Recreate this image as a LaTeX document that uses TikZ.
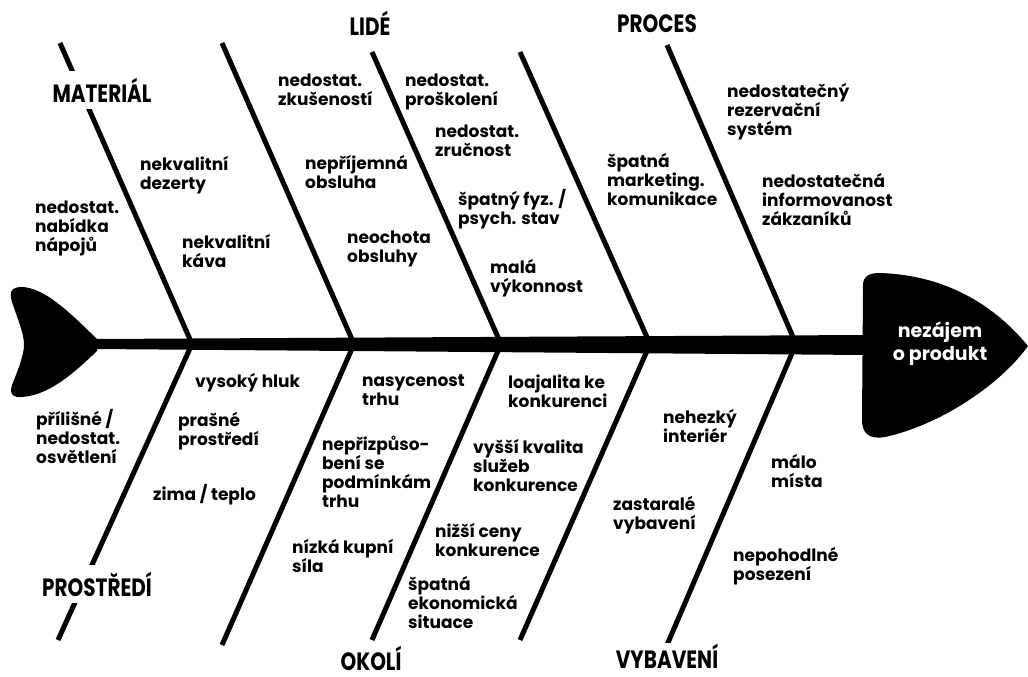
\documentclass[tikz,border=0pt]{standalone}
\usepackage{fontspec}
\setmainfont{Poppins}
\newfontfamily\catfont{Poppins}[FakeStretch=0.8]

\begin{document}
\begin{tikzpicture}[x=1pt,y=-1pt,
  bone/.style={line width=5pt,line join=round},
  cause/.style={anchor=base west,align=left,inner sep=0pt,
    font=\bfseries\fontsize{17}{19}\selectfont},
  cat/.style={fill=white,inner sep=1pt,
    font=\catfont\bfseries\fontsize{25}{28}\selectfont}]
\useasboundingbox (0,0) rectangle (1028,677);
% tail, spine and head
\fill (97,339) .. controls (75,318) and (45,286) .. (20,287)
  .. controls (8,288) and (10,296) .. (13,305)
  .. controls (20,325) and (24,335) .. (24,345)
  .. controls (24,355) and (18,370) .. (12,385)
  .. controls (9,395) and (14,398) .. (22,397)
  .. controls (50,395) and (75,372) .. (97,351) -- cycle;
\fill (95,339) -- (866,335) -- (866,355) -- (95,349) -- cycle;
\fill (863,290) .. controls (862,278) and (866,273) .. (880,273)
  .. controls (940,275) and (990,300) .. (1028,346)
  .. controls (1000,385) and (940,425) .. (885,437)
  .. controls (868,440) and (862,432) .. (862,420) -- cycle;
\node[text=white,align=center,font=\bfseries\fontsize{19}{23}\selectfont]
  (effect) at (940,344) {nezájem\\o produkt};
% bones
\foreach \i/\tx/\ty/\jx/\bx/\by in {1/60/43/192/58/640,2/222/43/354/222/645,
    3/372/52/501/372/640,4/520/52/650/520/640,5/667/45/796/667/645}{
  \coordinate (t\i) at (\tx,\ty);
  \coordinate (j\i) at (\jx,344);
  \coordinate (b\i) at (\bx,\by);
  \draw[bone] (t\i) -- (j\i) -- (b\i);
}
% categories
\node[cat,inner sep=7pt] (material) at (102,90) {MATERIÁL};
\node[cat] (lide) at (370,23) {LIDÉ};
\node[cat] (proces) at (657,24) {PROCES};
\node[cat,inner sep=7pt] (prostredi) at (97,584) {PROSTŘEDÍ};
\node[cat] (okoli) at (371,658) {OKOLÍ};
\node[cat] (vybaveni) at (667,656) {VYBAVENÍ};
% causes above
\node[cause] (napoje) at (35,251) {nedostat.\\nabídka\\nápojů};
\node[cause] (dezerty) at (140,189) {nekvalitní\\dezerty};
\node[cause] (kava) at (182,267) {nekvalitní\\káva};
\node[cause] (zkusenosti) at (278,105) {nedostat.\\zkušeností};
\node[cause] (obsluha) at (305,188) {nepříjemná\\obsluha};
\node[cause] (neochota) at (347,262) {neochota\\obsluhy};
\node[cause] (proskoleni) at (405,105) {nedostat.\\proškolení};
\node[cause] (zrucnost) at (435,156) {nedostat.\\zručnost};
\node[cause] (stav) at (458,224) {špatný fyz. /\\psych. stav};
\node[cause] (vykonnost) at (490,292) {malá\\výkonnost};
\node[cause] (marketing) at (607,205) {špatná\\marketing.\\komunikace};
\node[cause] (rezervace) at (727,135) {nedostatečný\\rezervační\\systém};
\node[cause] (informovanost) at (762,225) {nedostatečná\\informovanost\\zákzaníků};
% causes below
\node[cause] (hluk) at (195,387) {vysoký hluk};
\node[cause] (osvetleni) at (36,463) {přílišné /\\nedostat.\\osvětlení};
\node[cause] (prach) at (178,445) {prašné\\prostředí};
\node[cause] (teplota) at (153,500) {zima / teplo};
\node[cause] (trh) at (362,405) {nasycenost\\trhu};
\node[cause] (prizpusobeni) at (322,507) {nepřizpůso-\\bení se\\podmínkám\\trhu};
\node[cause] (kupni) at (292,572) {nízká kupní\\síla};
\node[cause] (loajalita) at (508,407) {loajalita ke\\konkurenci};
\node[cause] (kvalita) at (473,491) {vyšší kvalita\\služeb\\konkurence};
\node[cause] (ceny) at (435,556) {nižší ceny\\konkurence};
\node[cause] (ekonomika) at (408,628) {špatná\\ekonomická\\situace};
\node[cause] (interier) at (663,442) {nehezký\\interiér};
\node[cause] (zastarale) at (613,529) {zastaralé\\vybavení};
\node[cause] (misto) at (771,487) {málo\\místa};
\node[cause] (posezeni) at (733,580) {nepohodlné\\posezení};
\end{tikzpicture}
\end{document}
